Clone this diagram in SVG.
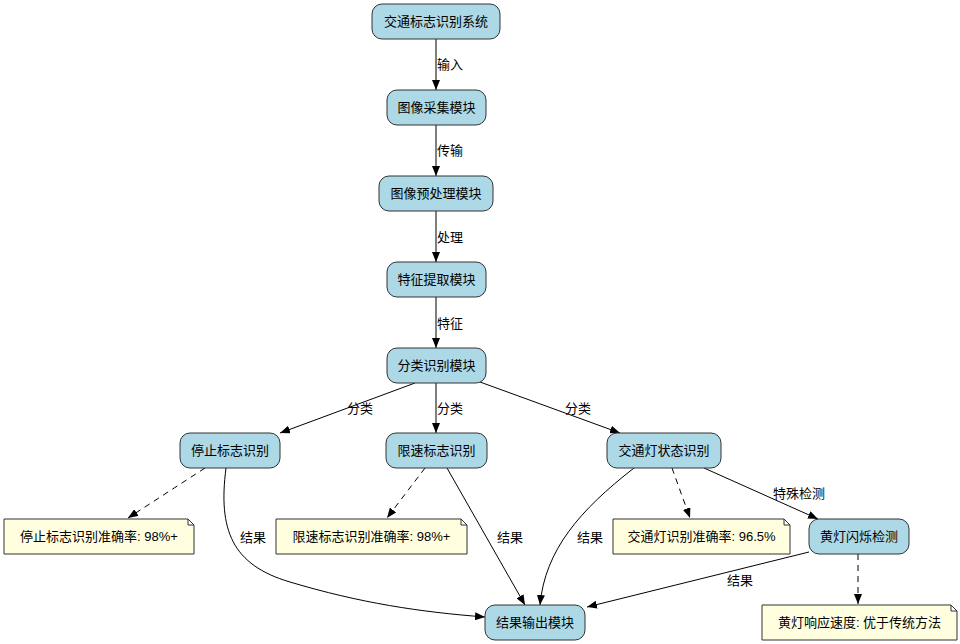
<svg xmlns="http://www.w3.org/2000/svg" width="960" height="644" viewBox="0 0 960 644">
<defs>
<marker id="a" markerWidth="10" markerHeight="8" refX="10" refY="4" orient="auto" markerUnits="userSpaceOnUse"><path d="M0,0L10,4L0,8Z" fill="#000"/></marker>
<style>
text{font-family:"Liberation Sans","Noto Sans CJK SC",sans-serif;font-size:13px;fill:#000}
.n rect{fill:#add8e6;stroke:#333;stroke-width:1}
.m path{fill:#ffffe0;stroke:#333;stroke-width:1}
.n text,.m text{text-anchor:middle;dominant-baseline:central}
#edges path{fill:none;stroke:#000;stroke-width:1;marker-end:url(#a)}
#edges .d{stroke-dasharray:6,5}
</style>
</defs>
<rect width="960" height="644" fill="#fff"/>
<g id="edges">
<path d="M436,39V90"/><path d="M436,125V176"/><path d="M436,211V262"/><path d="M436,297V348"/>
<path d="M415,383L280,433"/><path d="M436,383V433"/><path d="M480,382L620,433"/>
<path class="d" d="M205,468L128,518"/>
<path d="M226,468C218,530 232,565 290,582C360,603 420,612 485,617"/>
<path class="d" d="M425,468L387,518"/>
<path d="M447,468L525,605"/>
<path d="M634,468C580,510 545,550 540,605"/>
<path class="d" d="M672,468L690,518"/>
<path d="M704,468L818,519"/>
<path d="M809,552L587,607"/>
<path class="d" d="M858,554V604"/>
<text x="437" y="69">输入</text><text x="437" y="155">传输</text><text x="437" y="242">处理</text><text x="437" y="328">特征</text>
<text x="347" y="413">分类</text><text x="437" y="413">分类</text><text x="565" y="413">分类</text>
<text x="240" y="542">结果</text><text x="497" y="542">结果</text><text x="577" y="542">结果</text><text x="727" y="585">结果</text>
<text x="773" y="498">特殊检测</text>
</g>
<g id="n1" class="n"><rect x="372" y="4" width="128" height="35" rx="10"/><text x="436" y="21.5">交通标志识别系统</text></g>
<g id="n2" class="n"><rect x="387" y="90" width="99" height="35" rx="10"/><text x="436.5" y="107.5">图像采集模块</text></g>
<g id="n3" class="n"><rect x="379" y="176" width="114" height="35" rx="10"/><text x="436" y="193.5">图像预处理模块</text></g>
<g id="n4" class="n"><rect x="387" y="262" width="99" height="35" rx="10"/><text x="436.5" y="279.5">特征提取模块</text></g>
<g id="n5" class="n"><rect x="387" y="348" width="99" height="35" rx="10"/><text x="436.5" y="365.5">分类识别模块</text></g>
<g id="n6" class="n"><rect x="180" y="433" width="100" height="35" rx="10"/><text x="230" y="450.5">停止标志识别</text></g>
<g id="n7" class="n"><rect x="386" y="433" width="101" height="35" rx="10"/><text x="436.5" y="450.5">限速标志识别</text></g>
<g id="n8" class="n"><rect x="607" y="433" width="114" height="35" rx="10"/><text x="664" y="450.5">交通灯状态识别</text></g>
<g id="n9" class="n"><rect x="809" y="519" width="100" height="35" rx="10"/><text x="859" y="536.5">黄灯闪烁检测</text></g>
<g id="n10" class="n"><rect x="485" y="605" width="100" height="35" rx="10"/><text x="535" y="622.5">结果输出模块</text></g>
<g id="m1" class="m"><path d="M4,519H188L194,525V554H4Z M188,519V525H194"/><text x="99" y="536.5">停止标志识别准确率: 98%+</text></g>
<g id="m2" class="m"><path d="M276,519H461L467,525V554H276Z M461,519V525H467"/><text x="371.5" y="536.5">限速标志识别准确率: 98%+</text></g>
<g id="m3" class="m"><path d="M613,519H784L790,525V554H613Z M784,519V525H790"/><text x="701.5" y="536.5">交通灯识别准确率: 96.5%</text></g>
<g id="m4" class="m"><path d="M762,605H951L957,611V640H762Z M951,605V611H957"/><text x="859.5" y="622.5">黄灯响应速度: 优于传统方法</text></g>
</svg>
